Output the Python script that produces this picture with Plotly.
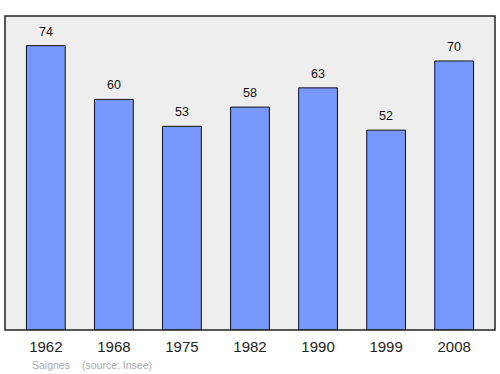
import plotly.graph_objects as go

years = ["1962", "1968", "1975", "1982", "1990", "1999", "2008"]
population = [74, 60, 53, 58, 63, 52, 70]
place = "Saignes"
source = "(source: Insee)"

fig = go.Figure()
fig.add_trace(go.Bar(
    x=years, y=population,
    width=0.57,
    marker=dict(color="#7799ff", line=dict(color="#111111", width=1)),
    hoverinfo="skip",
))
for i, v in enumerate(population):
    fig.add_annotation(x=i, y=v, text=str(v), showarrow=False,
                       yshift=14, font=dict(size=12.5, color="#111111"))

fig.add_annotation(xref="paper", yref="paper", x=0.052, y=-0.112, xanchor="left",
                   yanchor="middle", text=place, showarrow=False,
                   font=dict(size=10.5, color="#aaaaaa"))
fig.add_annotation(xref="paper", yref="paper", x=0.153, y=-0.112, xanchor="left",
                   yanchor="middle", text=source, showarrow=False,
                   font=dict(size=10.5, color="#aaaaaa"))

fig.add_shape(type="rect", xref="paper", yref="paper", x0=0, y0=0, x1=1, y1=1,
              line=dict(color="#222222", width=1.5), layer="above")

fig.update_layout(
    width=500, height=374,
    margin=dict(l=5, r=5, t=16, b=44),
    paper_bgcolor="white", plot_bgcolor="#eeeeee",
    font=dict(family="Liberation Sans, Arial, sans-serif"),
    showlegend=False,
    xaxis=dict(type="category", range=[-0.6, 6.6], showgrid=False, zeroline=False,
               ticks="outside", ticklen=3, tickcolor="rgba(0,0,0,0)",
               tickfont=dict(size=15, color="#222222"), fixedrange=True),
    yaxis=dict(range=[0, 81.7], showgrid=False, zeroline=False,
               showticklabels=False, fixedrange=True),
)
fig.write_html("out.html")
